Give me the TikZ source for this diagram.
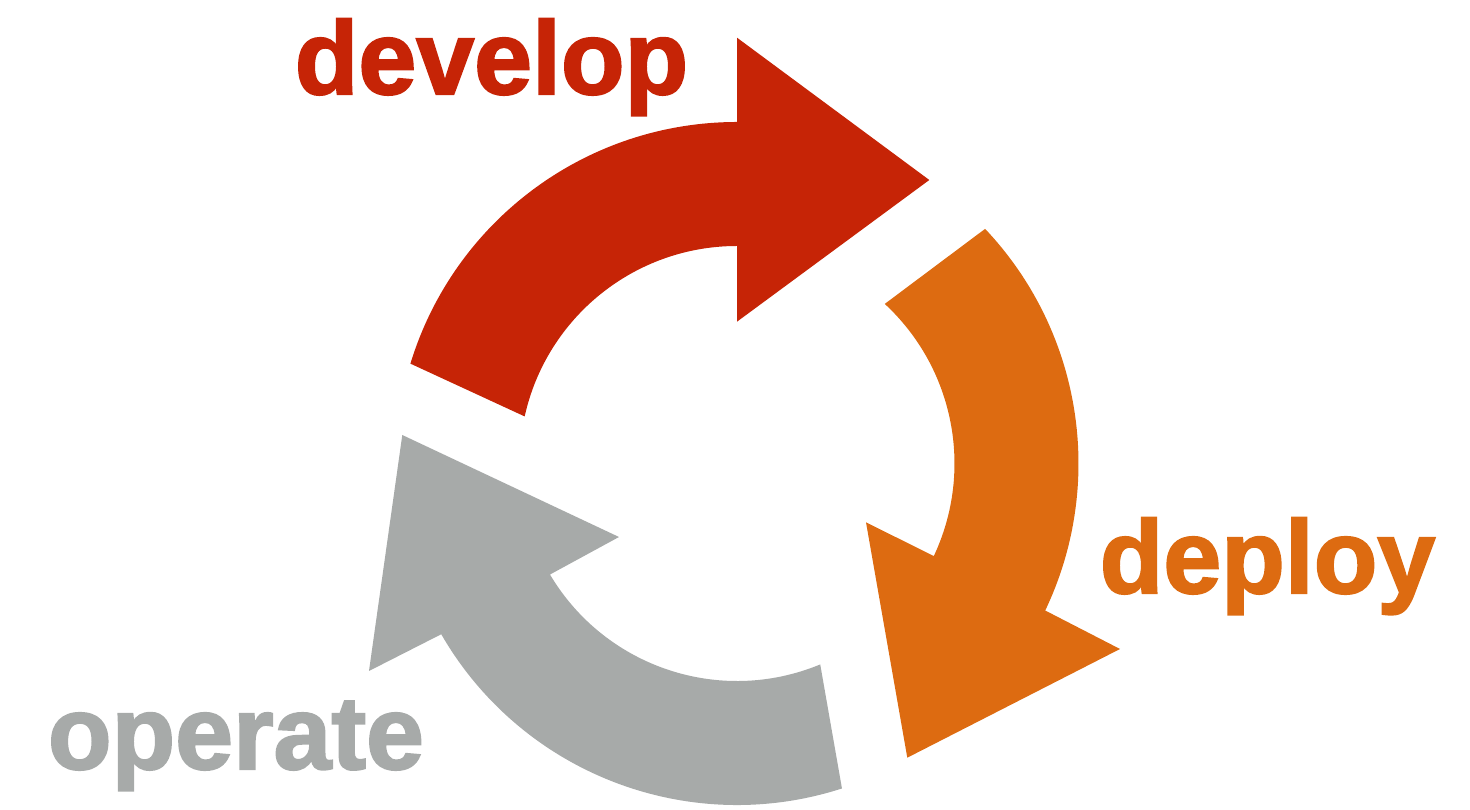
\documentclass[tikz,border=0pt]{standalone}
\usepackage{tikz}
\usepackage{fontspec}
\setmainfont{Liberation Sans}
\newfontfamily\labelfont{Liberation Sans}[FakeBold=2]
\usetikzlibrary{positioning}
\usetikzlibrary{calc}

\definecolor{devred}{RGB}{198,36,6}
\definecolor{deporange}{RGB}{221,107,17}
\definecolor{opgray}{RGB}{167,170,169}

\tikzset{
  phase/.style={inner sep=0pt, anchor=base, font=\labelfont\bfseries\fontsize{29.6}{30}\selectfont}
}

\begin{document}
\begin{tikzpicture}[x=0.01cm,y=0.01cm]
\useasboundingbox (-737,463.5) rectangle (733,-346.5);

% develop
\fill[devred] (163:341.5) arc[start angle=163, end angle=90, radius=341.5]
  -- (0,425.8) -- (192.3,283.5) -- (0,141.8)
  -- (90:217.5) arc[start angle=90, end angle=167.5, radius=217.5] -- cycle;
% deploy
\fill[deporange] (43.4:341.5) arc[start angle=43.4, end angle=-25.5, radius=341.5]
  -- (383,-185.5) -- (170.3,-294.2) -- (129,-58.8)
  -- (-25.2:217.5) arc[start angle=-25.2, end angle=47.2, radius=217.5] -- cycle;
% operate
\fill[opgray] (-72.1:341.5) arc[start angle=-72.1, end angle=-150, radius=341.5]
  -- (-368,-207.5) -- (-334.7,28.5) -- (-118,-73.5)
  -- (-149.3:217.5) arc[start angle=-149.3, end angle=-67.5, radius=217.5] -- cycle;

\node[phase, text=devred](develop) at (-245.5,369.5){develop};
\node[phase, text=deporange](deploy) at (530.5,-129.5){deploy};
\node[phase, text=opgray](operate) at (-501,-305.5){operate};
\end{tikzpicture}
\end{document}
